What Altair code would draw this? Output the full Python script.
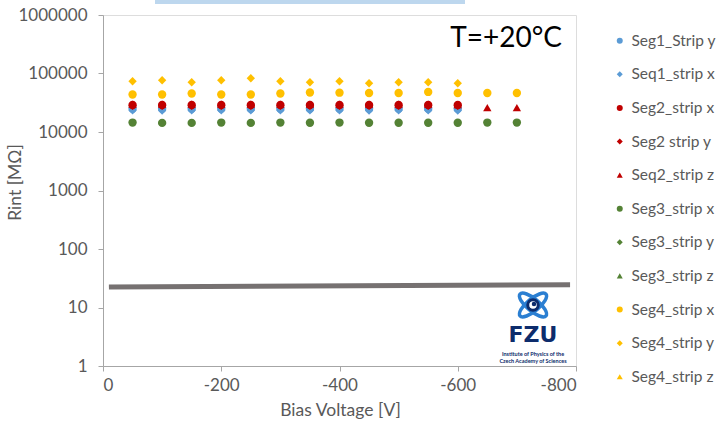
import altair as alt
import pandas as pd

# ---------------- data ----------------
series_names = ["Seg1_Strip y", "Seq1_strip x", "Seg2_strip x", "Seg2 strip y", "Seq2_strip z",
                "Seg3_strip x", "Seg3_strip y", "Seg3_strip z", "Seg4_strip x", "Seg4_strip y", "Seg4_strip z"]
series_colors = ["#5B9BD5", "#5B9BD5", "#C00000", "#C00000", "#C00000",
                 "#548235", "#548235", "#548235", "#FFC000", "#FFC000", "#FFC000"]
series_shapes = ["circle", "diamond", "circle", "diamond", "triangle-up",
                 "circle", "diamond", "triangle-up", "circle", "diamond", "triangle-up"]

volt_to600 = [-50, -100, -150, -200, -250, -300, -350, -400, -450, -500, -550, -600]
volt_to700 = [-50, -100, -150, -200, -250, -300, -350, -400, -450, -500, -550, -600, -650, -700]

seg1_strip_y = [25000, 25000, 25000, 25000, 25000, 25000, 25000, 25000, 25000, 25000, 25000, 25000]
seq1_strip_x = [23500, 23300, 23500, 23500, 23500, 23500, 23500, 23500, 23300, 23500, 23500, 23300]
seg2_strip_x = [29000, 29000, 29000, 29000, 29000, 29000, 29000, 29000, 29000, 29000, 29000, 29000]
seg2_strip_y = [28000, 28000, 28000, 28000, 28000, 28000, 28000, 28000, 28000, 28000, 28000, 28000]
seq2_strip_z = [30000, 30000, 30000, 30000, 30000, 30000, 30000, 30000, 30000, 30000, 30000, 29500, 26000, 26000]
seg3_strip_x = [14500, 14300, 14300, 14500, 14300, 14500, 14400, 14500, 14400, 14400, 14400, 14400, 14500, 14500]
seg4_strip_x = [43700, 43700, 45500, 43700, 43700, 45500, 47300, 47000, 46500, 46500, 48400, 46500, 46500, 46500]
seg4_strip_y = [73800, 76800, 70900, 76800, 83100, 73800, 70900, 73800, 68200, 70900, 70900, 68200]

line_volt = [-10, -790]
line_rint = [22.5, 24.5]

x_ticks = [0, -200, -400, -600, -800]
y_ticks = [1, 10, 100, 1000, 10000, 100000, 1000000]

rows = []
for name, vs, rs in [
    ("Seg1_Strip y", volt_to600, seg1_strip_y),
    ("Seq1_strip x", volt_to600, seq1_strip_x),
    ("Seg2_strip x", volt_to600, seg2_strip_x),
    ("Seg2 strip y", volt_to600, seg2_strip_y),
    ("Seq2_strip z", volt_to700, seq2_strip_z),
    ("Seg3_strip x", volt_to700, seg3_strip_x),
    ("Seg4_strip x", volt_to700, seg4_strip_x),
    ("Seg4_strip y", volt_to600, seg4_strip_y),
]:
    for v, r in zip(vs, rs):
        rows.append({"series": name, "V": v, "R": r, "ord": series_names.index(name)})
df = pd.DataFrame(rows)
df_line = pd.DataFrame({"V": line_volt, "R": line_rint})

FONT = "Lato"
GREY = "#595959"

W, H = 473, 351

xscale = alt.Scale(domain=[0, -800], nice=False)
yscale = alt.Scale(type="log", domain=[1, 1000000], nice=False)

points = alt.Chart(df).mark_point(filled=True, size=70, opacity=1).encode(
    x=alt.X("V:Q", scale=xscale,
            axis=alt.Axis(values=x_ticks, title="Bias Voltage [V]", grid=False,
                          labelExpr="datum.value == 0 ? '0' : '-' + abs(datum.value)",
                          tickSize=5, labelPadding=6, labelFontSize=17, labelColor=GREY,
                          titleFontSize=17.5, titleColor=GREY, titleFontWeight="normal",
                          titleX=237, titleY=44, titleBaseline="middle",
                          domainColor="#A6A6A6", tickColor="#A6A6A6", labelFont=FONT, titleFont=FONT)),
    y=alt.Y("R:Q", scale=yscale,
            axis=alt.Axis(values=y_ticks, format="d", title="Rint [MΩ]", grid=False,
                          tickSize=5, labelPadding=11, labelFontSize=17, labelColor=GREY,
                          titleFontSize=17.5, titleColor=GREY, titleFontWeight="normal",
                          titleX=-88, titleY=167, titleAngle=-90, titleAlign="center",
                          titleBaseline="middle",
                          domainColor="#A6A6A6", tickColor="#A6A6A6", labelFont=FONT, titleFont=FONT)),
    color=alt.Color("series:N", scale=alt.Scale(domain=series_names, range=series_colors),
                    legend=alt.Legend(title=None, orient="none", legendX=509, legendY=18,
                                      labelFontSize=15.5, labelColor=GREY, labelFont=FONT,
                                      symbolSize=36, rowPadding=16.6, labelOffset=4,
                                      symbolStrokeWidth=0)),
    shape=alt.Shape("series:N", scale=alt.Scale(domain=series_names, range=series_shapes)),
    order=alt.Order("ord:Q"),
)

gline = alt.Chart(df_line).mark_line(color="#767171", strokeWidth=5).encode(
    x=alt.X("V:Q", scale=xscale), y=alt.Y("R:Q", scale=yscale)
)

one = pd.DataFrame({"a": [0]})

top_bar = alt.Chart(one).mark_rect(color="#BDD7EE", clip=False).encode(
    x=alt.value(52), x2=alt.value(362), y=alt.value(-15), y2=alt.value(-11)
)

temp_text = alt.Chart(one).mark_text(text="T=+20°C", fontSize=28, font=FONT, color="#000000",
                                     align="right", baseline="middle").encode(
    x=alt.value(459), y=alt.value(24)
)

ELLIPSE = "M -1 0 A 1 0.36 0 1 1 1 0 A 1 0.36 0 1 1 -1 0 Z"
orbit1 = alt.Chart(one).mark_point(shape=ELLIPSE, size=1150, filled=False, strokeWidth=3.5,
                                   color="#2B7FD2", angle=40, opacity=1).encode(
    x=alt.value(430), y=alt.value(290)
)
orbit2 = alt.Chart(one).mark_point(shape=ELLIPSE, size=1150, filled=False, strokeWidth=3.5,
                                   color="#2B7FD2", angle=140, opacity=1).encode(
    x=alt.value(430), y=alt.value(290)
)
nucleus = alt.Chart(one).mark_point(shape="circle", size=110, filled=False, strokeWidth=3,
                                    color="#0D2C6C", opacity=1).encode(
    x=alt.value(430), y=alt.value(290)
)
nucleus_dot = alt.Chart(one).mark_point(shape="circle", size=20, filled=True,
                                        color="#0D2C6C", opacity=1).encode(
    x=alt.value(431), y=alt.value(289)
)
fzu = alt.Chart(one).mark_text(text="FZU", fontSize=22, fontWeight="bold", font="DejaVu Sans",
                               color="#0D2C6C", align="center", baseline="alphabetic").encode(
    x=alt.value(430), y=alt.value(327)
)
sub1 = alt.Chart(one).mark_text(text="Institute of Physics of the", fontSize=5.5, font=FONT,
                                fontWeight="bold", color="#0D2C6C", align="center",
                                baseline="middle").encode(
    x=alt.value(430), y=alt.value(339)
)
sub2 = alt.Chart(one).mark_text(text="Czech Academy of Sciences", fontSize=5.5, font=FONT,
                                fontWeight="bold", color="#0D2C6C", align="center",
                                baseline="middle").encode(
    x=alt.value(430), y=alt.value(346)
)

chart = alt.layer(gline, points, top_bar, temp_text, orbit1, orbit2, nucleus, nucleus_dot,
                  fzu, sub1, sub2).properties(
    width=W, height=H,
    autosize=alt.AutoSizeParams(type="none"),
    padding={"left": 103, "top": 15, "right": 148, "bottom": 58},
).configure_view(stroke="#BFBFBF", strokeWidth=1.5).configure(background="white")

chart.save("out.html", embed_options={"renderer": "svg", "actions": False})
